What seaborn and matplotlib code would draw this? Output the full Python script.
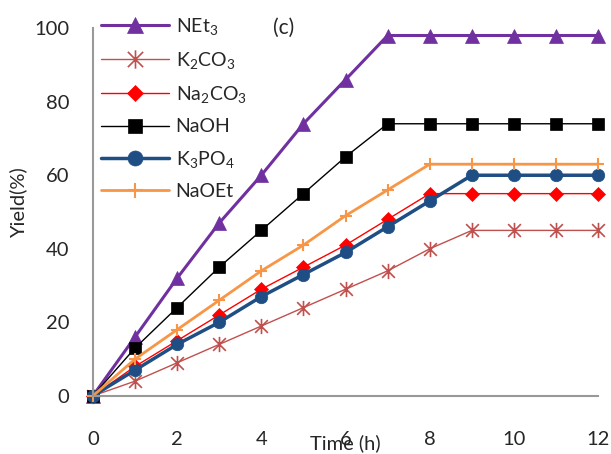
import numpy as np
import pandas as pd
import matplotlib
matplotlib.use("Agg")
import matplotlib.pyplot as plt
from matplotlib.path import Path
import seaborn as sns

# ---- data ----------------------------------------------------------
time_h = [0, 1, 2, 3, 4, 5, 6, 7, 8, 9, 10, 11, 12]
net3   = [0, 16, 32, 47, 60, 74, 86, 98, 98, 98, 98, 98, 98]
k2co3  = [0, 4, 9, 14, 19, 24, 29, 34, 40, 45, 45, 45, 45]
na2co3 = [0, 8, 15, 22, 29, 35, 41, 48, 55, 55, 55, 55, 55]
naoh   = [0, 13, 24, 35, 45, 55, 65, 74, 74, 74, 74, 74, 74]
k3po4  = [0, 7, 14, 20, 27, 33, 39, 46, 53, 60, 60, 60, 60]
naoet  = [0, 10, 18, 26, 34, 41, 49, 56, 63, 63, 63, 63, 63]

# Excel-style asterisk: X plus a vertical stroke
star = Path([(-1, -1), (1, 1), (-1, 1), (1, -1), (0, -1.2), (0, 1.2)],
            [Path.MOVETO, Path.LINETO, Path.MOVETO, Path.LINETO,
             Path.MOVETO, Path.LINETO])

series = [
    ("NEt$_3$",        net3,   "#7030A0", "^",  10, 2.2),
    ("K$_2$CO$_3$",    k2co3,  "#C0504D", star, 11, 1.0),
    ("Na$_2$CO$_3$",   na2co3, "#FF0000", "D",  7,  1.0),
    ("NaOH",           naoh,   "#000000", "s",  8,  1.0),
    ("K$_3$PO$_4$",    k3po4,  "#1F4E84", "o",  9,  2.5),
    ("NaOEt",          naoet,  "#F79646", "+",  9,  2.0),
]

sns.set_style("white")
plt.rcParams["font.family"] = ["Lato", "DejaVu Sans"]
plt.rcParams["mathtext.fontset"] = "custom"
plt.rcParams["mathtext.rm"] = "Lato"
plt.rcParams["mathtext.it"] = "Lato"

fig = plt.figure(figsize=(6.11, 4.54), dpi=100)
ax = fig.add_axes([0.152, 0.128, 0.827, 0.810])

for name, vals, col, mk, ms, lw in series:
    df = pd.DataFrame({"t": time_h, "y": vals})
    if mk is star:
        mew = 1.2
    elif mk == "+":
        mew = 1.5
    else:
        mew = 0.5
    sns.lineplot(data=df, x="t", y="y", ax=ax, color=col, lw=lw,
                 marker=mk, markersize=ms, markeredgecolor=col,
                 markeredgewidth=mew, label=name, clip_on=False)

ax.set_xlim(0, 12)
ax.set_ylim(0, 100)
ax.set_xticks(range(0, 13, 2))
ax.set_yticks(range(0, 101, 20))
ax.tick_params(axis="both", labelsize=14.5, direction="out", length=5,
               color="#888888", width=1.2)
ax.tick_params(axis="x", pad=20)
ax.tick_params(axis="y", pad=12)
for s in ["top", "right"]:
    ax.spines[s].set_visible(False)
for s in ["left", "bottom"]:
    ax.spines[s].set_color("#999999")
    ax.spines[s].set_linewidth(1.5)

ax.set_xlabel("Time (h)", fontsize=14.5)
ax.set_ylabel("Yield(%)", fontsize=14.5)
ax.xaxis.set_label_coords(0.5, -0.105)
ax.yaxis.set_label_coords(-0.13, 0.525)

ax.text(4.28, 100, "(c)", fontsize=15, ha="left", va="center")

leg = ax.legend(loc="upper left", bbox_to_anchor=(0.0, 1.055), frameon=False,
                fontsize=14, handlelength=3.5, handletextpad=0.35,
                labelspacing=0.68, borderaxespad=0, markerscale=1.2)

fig.savefig("out.png", dpi=100)
